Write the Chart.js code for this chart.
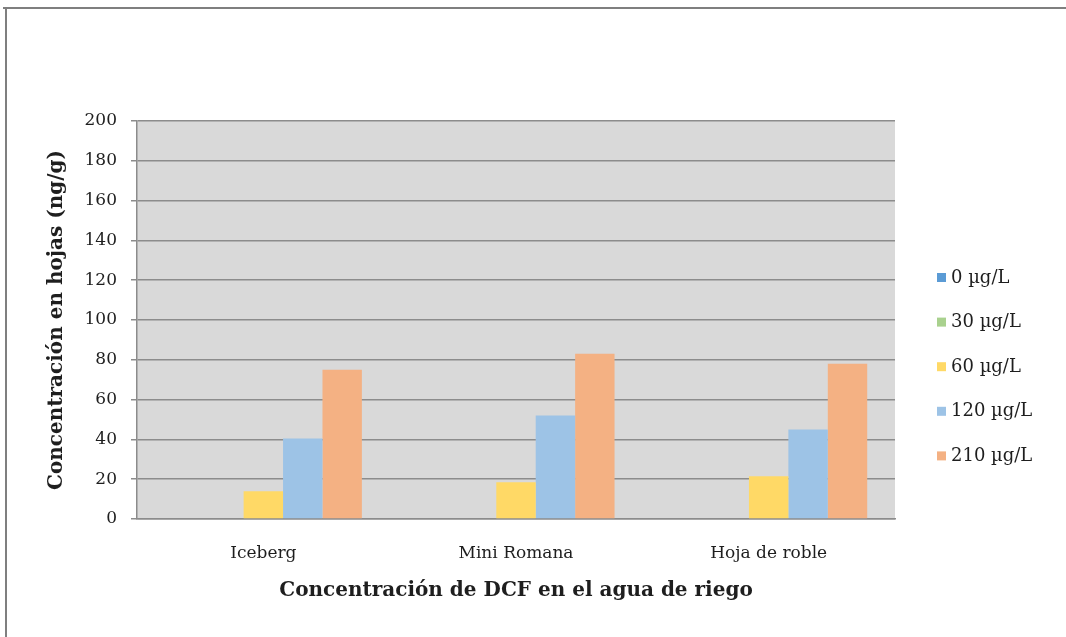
<!DOCTYPE html>
<html>
<head>
<meta charset="utf-8">
<script src="https://cdn.jsdelivr.net/npm/chart.js@4.4.0/dist/chart.umd.min.js"></script>
<style>
  html, body { margin: 0; padding: 0; background: #ffffff; overflow: hidden; }
  canvas { display: block; }
</style>
</head>
<body>
<canvas id="c" width="1066" height="637"></canvas>
<script>
const categories = ["Iceberg", "Mini Romana", "Hoja de roble"];
const seriesLabels = ["0 \u00b5g/L", "30 \u00b5g/L", "60 \u00b5g/L", "120 \u00b5g/L", "210 \u00b5g/L"];
const conc0   = [0, 0, 0];
const conc30  = [0, 0, 0];
const conc60  = [14, 18.5, 21.5];
const conc120 = [40.5, 52, 45];
const conc210 = [75, 83, 78];
const yTicks = [0, 20, 40, 60, 80, 100, 120, 140, 160, 180, 200];
const colors = ["#5b9bd5", "#a9d18e", "#ffd966", "#9dc3e6", "#f4b183"];

const FONT = "'DejaVu Serif', serif";
const TXT = "#1e1e1e";

const allSeries = [conc0, conc30, conc60, conc120, conc210];

const plotBg = {
  id: 'plotBg',
  beforeDraw(chart) {
    const {ctx, chartArea: a} = chart;
    ctx.save();
    ctx.fillStyle = '#ffffff';
    ctx.fillRect(0, 0, chart.width, chart.height);
    ctx.fillStyle = '#7f7f7f';
    ctx.fillRect(3, 7, chart.width - 3, 2);
    ctx.fillRect(5, 7, 2, chart.height - 7);
    ctx.fillStyle = '#d9d9d9';
    ctx.fillRect(a.left, a.top, a.right - a.left, a.bottom - a.top);
    ctx.restore();
  }
};

const sideLegend = {
  id: 'sideLegend',
  afterDraw(chart) {
    const {ctx} = chart;
    ctx.save();
    ctx.font = "18px " + FONT;
    ctx.textBaseline = 'middle';
    ctx.textAlign = 'left';
    chart.data.datasets.forEach((ds, i) => {
      const y = 278 + i * 44.6;
      ctx.fillStyle = ds.backgroundColor;
      ctx.fillRect(937, y - 5, 9, 9);
      ctx.fillStyle = TXT;
      ctx.fillText(ds.label, 951, y);
    });
    ctx.restore();
  }
};

new Chart(document.getElementById('c'), {
  type: 'bar',
  data: {
    labels: categories,
    datasets: allSeries.map((d, i) => ({
      label: seriesLabels[i],
      data: d,
      backgroundColor: colors[i],
      borderWidth: 0,
      categoryPercentage: 0.78,
      barPercentage: 1.0
    }))
  },
  options: {
    responsive: false,
    animation: false,
    layout: { padding: { left: 0, right: 171, top: 121, bottom: 0 } },
    plugins: { legend: { display: false }, tooltip: { enabled: false } },
    scales: {
      x: {
        afterFit: (s) => { s.height = 118; },
        grid: { display: false, drawTicks: false, tickLength: 0 },
        border: { display: true, color: '#8c8c8c', width: 1.5 },
        ticks: { color: TXT, font: { family: FONT, size: 17 }, padding: 24 },
        title: { display: true, text: 'Concentración de DCF en el agua de riego', color: TXT,
                 font: { family: FONT, size: 20, weight: 'bold' }, padding: { top: 0, bottom: 34 } }
      },
      y: {
        min: 0, max: 200,
        afterFit: (s) => { s.width = 137; },
        afterBuildTicks: (s) => { s.ticks = yTicks.map(v => ({ value: v })); },
        grid: { color: '#8c8c8c', lineWidth: 1.5, tickLength: 6, drawTicks: true },
        border: { display: true, color: '#8c8c8c', width: 1.5 },
        ticks: { color: TXT, font: { family: FONT, size: 17 }, padding: 14 },
        title: { display: true, text: 'Concentración en hojas (ng/g)', color: TXT,
                 font: { family: FONT, size: 20, weight: 'bold' }, padding: { top: 45, bottom: 0 } }
      }
    }
  },
  plugins: [plotBg, sideLegend]
});
</script>
</body>
</html>
